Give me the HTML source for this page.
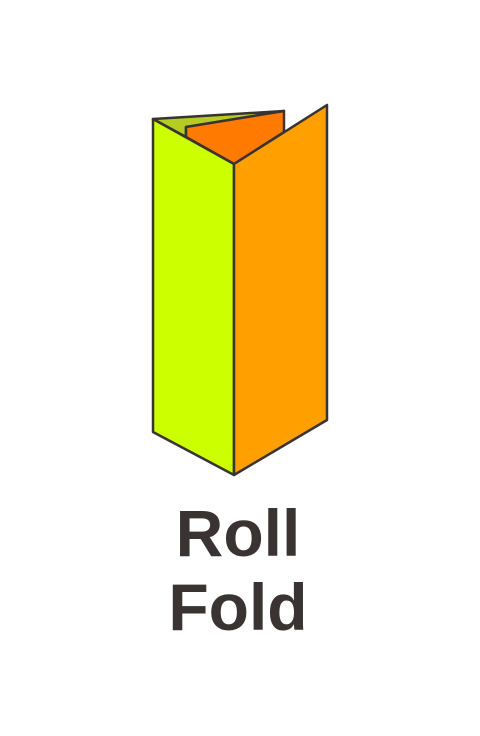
<!DOCTYPE html>
<html><head><meta charset="utf-8"><style>
html,body{margin:0;padding:0;background:#fff;width:480px;height:736px;overflow:hidden}
svg{display:block}
</style></head><body>
<svg width="480" height="736" viewBox="0 0 480 736">
<g stroke="#3a3333" stroke-width="2.5" stroke-linejoin="round">
<polygon points="153,119 284,111 186,127 186,137" fill="#b5cc22"/>
<polygon points="186,127 284,111 284,132 234,164 186,137" fill="#ff7a00"/>
<polygon points="153,119 234,164 234,475 153,432" fill="#ccff00"/>
<polygon points="234,164 327,105 327,420 234,475" fill="#ffa000"/>
</g>
<text x="238" y="556" text-anchor="middle" font-family="Liberation Sans, sans-serif" font-weight="bold" font-size="66" fill="#3a3333">Roll</text>
<text x="238" y="630" text-anchor="middle" font-family="Liberation Sans, sans-serif" font-weight="bold" font-size="66" fill="#3a3333">Fold</text>
</svg>
</body></html>
